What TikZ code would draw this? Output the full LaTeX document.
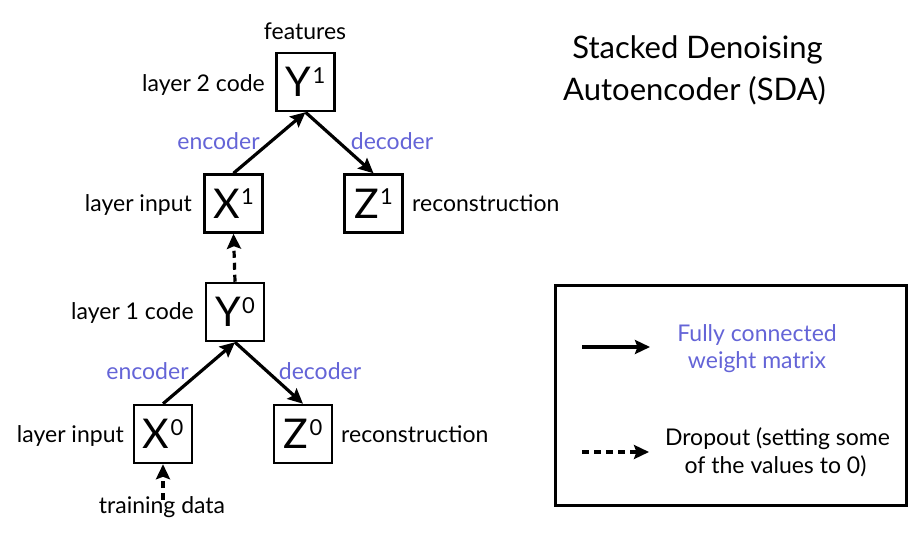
\documentclass[tikz,border=0pt]{standalone}
\usepackage{fontspec}
\setmainfont{Lato}
\usetikzlibrary{arrows.meta}
\definecolor{labblue}{RGB}{100,100,215}
\begin{document}
\begin{tikzpicture}[x=1pt,y=-1pt,
  box/.style={draw,line width=2.5pt,minimum width=58pt,minimum height=58pt,inner sep=0pt,font=\fontsize{41}{44}\selectfont},
  lab/.style={font=\fontsize{23}{28}\selectfont,inner sep=0pt},
  blab/.style={lab,text=labblue},
  conn/.style={line width=3.2pt,-{Stealth[length=15pt,width=14pt,inset=2.5pt]}},
  dconn/.style={conn,dash pattern=on 7pt off 5pt},
]
\useasboundingbox (0,0) rectangle (924,537);
\newcommand{\bx}[2]{#1\hspace{1.5pt}\raisebox{13.5pt}{\fontsize{22}{22}\selectfont #2}\hspace{4pt}}
% boxes
\node[box] (Y1) at (305.5,82) {\bx{Y}{1}};
\node[box] (X1) at (233.5,203.5) {\bx{X}{1}};
\node[box] (Z1) at (373.5,203.5) {\bx{Z}{1}};
\node[box] (Y0) at (235,312) {\bx{Y}{0}};
\node[box] (X0) at (163,434) {\bx{X}{0}};
\node[box] (Z0) at (303,434) {\bx{Z}{0}};
% labels
\node[lab,anchor=base] (feat) at (305,40) {features};
\node[lab,anchor=base east] (l2c) at (265,92) {layer 2 code};
\node[lab,anchor=base east] (li1) at (192,212) {layer input};
\node[lab,anchor=base west] (rc1) at (412,212) {reconstruction};
\node[lab,anchor=base east] (l1c) at (194,320) {layer 1 code};
\node[lab,anchor=base east] (li0) at (124,442) {layer input};
\node[lab,anchor=base west] (rc0) at (341,442) {reconstruction};
\node[lab,anchor=base] (train) at (162,513) {training data};
\node[blab,anchor=base] (enc1) at (218.5,150) {encoder};
\node[blab,anchor=base] (dec1) at (392,150) {decoder};
\node[blab,anchor=base] (enc0) at (147.5,380) {encoder};
\node[blab,anchor=base] (dec0) at (320,380) {decoder};
% title
\node[font=\fontsize{31}{38}\selectfont,inner sep=0pt,anchor=base] (title1) at (697.5,59) {Stacked Denoising};
\node[font=\fontsize{31}{38}\selectfont,inner sep=0pt,anchor=base] (title2) at (694.5,101) {Autoencoder (SDA)};
% connectors
\draw[conn] (X1.north) -- (Y1.south);
\draw[conn] (Y1.south) -- (Z1.north);
\draw[conn] (X0.north) -- (Y0.south);
\draw[conn] (Y0.south) -- (Z0.north);
\draw[dconn] (Y0.north) -- (X1.south);
\coordinate (tr) at (163,500);
\draw[dconn] (tr) -- (X0.south);
% legend
\node[draw,line width=2.6pt,minimum width=351pt,minimum height=220pt,inner sep=0pt] (legend) at (731,395.5) {};
\coordinate (s1) at (582,347);
\coordinate (s2) at (650,347);
\coordinate (d1) at (582,452);
\coordinate (d2) at (649,452);
\draw[conn] (s1) -- (s2);
\draw[dconn] (d1) -- (d2);
\node[blab,anchor=base] (fc1) at (757,342) {Fully connected};
\node[blab,anchor=base] (fc2) at (757,369) {weight matrix};
\node[lab,anchor=base] (dr1) at (777.5,445) {Dropout (setting some};
\node[lab,anchor=base] (dr2) at (775.5,473) {of the values to 0)};
\end{tikzpicture}
\end{document}
